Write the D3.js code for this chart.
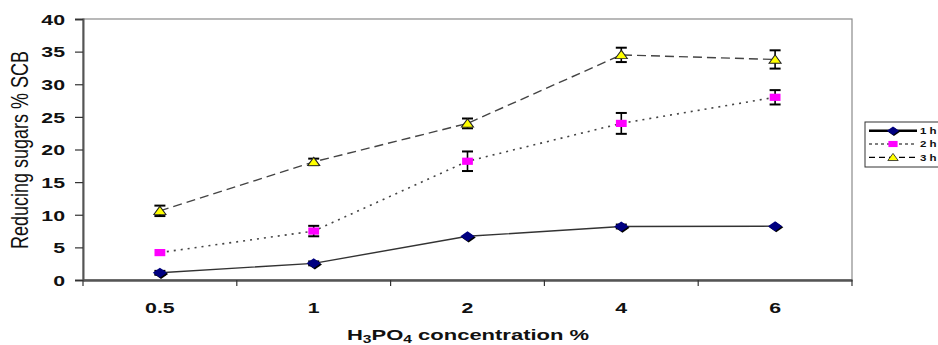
<!DOCTYPE html>
<html><head><meta charset="utf-8">
<script src="https://cdn.jsdelivr.net/npm/d3@7"></script>
<style>body{margin:0;background:#fff}svg{display:block}</style>
</head><body>
<svg id="c" width="938" height="345"></svg>
<script>
const categories = ["0.5", "1", "2", "4", "6"];
const seriesNames = ["1 h", "2 h", "3 h"];
const values1h = [1.1, 2.55, 6.7, 8.2, 8.25];
const values2h = [4.2, 7.5, 18.2, 24.0, 28.0];
const values3h = [10.6, 18.1, 24.0, 34.5, 33.8];
const err1h = [0.3, 0.3, 0.2, 0.3, 0.2];
const err2h = [0.0, 0.8, 1.5, 1.6, 1.1];
const err3h = [0.8, 0.5, 0.75, 1.1, 1.4];
const yTicks = [0, 5, 10, 15, 20, 25, 30, 35, 40];

const SX = 1.42; // horizontal stretch of text and markers in the reference
const FONT = "Liberation Sans, Arial, sans-serif";
const svg = d3.select("#c");
const L = 83, R = 852, T = 19, B = 280;
const x = d3.scaleBand().domain(categories).range([L, R]);
const y = d3.scaleLinear().domain([0, 40]).range([B, T]);

function stext(g, px, py, str, size, weight, anchor, sx) {
  return g.append("text").attr("transform", `translate(${px},${py}) scale(${sx || SX},1)`)
    .attr("text-anchor", anchor || "middle").attr("font-family", FONT)
    .attr("font-size", size).attr("font-weight", weight || "normal").attr("fill", "#111").text(str);
}

// frame
svg.append("rect").attr("x", L).attr("y", T).attr("width", R - L).attr("height", B - T)
  .attr("fill", "none").attr("stroke", "#8a8a8a").attr("stroke-width", 1.2);

// y axis
const ya = svg.append("g").attr("transform", `translate(${L},0)`)
  .call(d3.axisLeft(y).tickValues(yTicks).tickSize(8));
ya.select(".domain").attr("stroke", "#555").attr("stroke-width", 2);
ya.selectAll(".tick line").attr("stroke", "#333").attr("stroke-width", 1.2);
ya.selectAll(".tick text").attr("x", null).attr("dy", null)
  .attr("transform", `translate(-18,5.3) scale(${SX},1)`)
  .attr("font-family", FONT).attr("font-size", 15).attr("font-weight", "bold").attr("fill", "#111");

// x axis
const xa = svg.append("g").attr("transform", `translate(0,${B})`)
  .call(d3.axisBottom(x).tickSize(0));
xa.select(".domain").attr("stroke", "#555").attr("stroke-width", 2.5);
xa.selectAll(".tick text").attr("y", null).attr("dy", null)
  .attr("transform", `translate(0,32.5) scale(${SX},1)`)
  .attr("font-family", FONT).attr("font-size", 15).attr("font-weight", "bold").attr("fill", "#111");
const bounds = categories.map(c => x(c)).concat([R]);
svg.append("g").selectAll("line").data(bounds).join("line")
  .attr("x1", d => d).attr("x2", d => d).attr("y1", B).attr("y2", B + 6)
  .attr("stroke", "#333").attr("stroke-width", 1.2);

// labels
svg.append("text").attr("transform", `translate(28,150) scale(1.3,1) rotate(-90)`)
  .attr("text-anchor", "middle").attr("font-family", FONT)
  .attr("font-size", 18).attr("fill", "#111").text("Reducing sugars % SCB");
const xl = stext(svg, 468, 340, null, 15.5, "bold");
xl.append("tspan").text("H");
xl.append("tspan").attr("font-size", 11).attr("dy", 2.5).text("3");
xl.append("tspan").attr("dy", -2.5).text("PO");
xl.append("tspan").attr("font-size", 11).attr("dy", 2.5).text("4");
xl.append("tspan").attr("dy", -2.5).text(" concentration %");

const cx = c => x(c) + x.bandwidth() / 2;
const series = [
  {name: seriesNames[0], vals: values1h, err: err1h, dash: null, sw: 1.4, color: "#333"},
  {name: seriesNames[1], vals: values2h, err: err2h, dash: "2,5", sw: 1.6, color: "#444"},
  {name: seriesNames[2], vals: values3h, err: err3h, dash: "9,5", sw: 1.4, color: "#444"}
];
const line = d3.line().x(d => cx(d.c)).y(d => y(d.v));

function marker(g, i, px, py, k) {
  k = k || 1;
  const m = g.append("g").attr("transform", `translate(${px},${py}) scale(${SX * k},${k})`);
  if (i === 0) {
    m.append("path").attr("d", "M0,-5 L5,0 L0,5 L-5,0 Z")
      .attr("transform", "translate(0.8,1.2)").attr("fill", "#000");
    m.append("path").attr("d", "M0,-5 L5,0 L0,5 L-5,0 Z").attr("fill", "#000080");
  } else if (i === 1) {
    m.append("rect").attr("x", -3.8).attr("y", -3.6).attr("width", 7.6).attr("height", 7.2)
      .attr("fill", "#ff00ff");
  } else {
    m.append("path").attr("d", "M0,-4.6 L4.3,3.8 L-4.3,3.8 Z").attr("fill", "#ffff00")
      .attr("stroke", "#222").attr("stroke-width", 0.8);
  }
}

series.forEach((s, i) => {
  const data = categories.map((c, k) => ({c, v: s.vals[k], e: s.err[k]}));
  svg.append("path").datum(data).attr("d", line).attr("fill", "none")
    .attr("stroke", s.color).attr("stroke-width", s.sw)
    .attr("stroke-dasharray", s.dash);
  const eg = svg.append("g");
  data.filter(d => d.e > 0.25).forEach(d => {
    const px = cx(d.c);
    eg.append("line").attr("x1", px).attr("x2", px).attr("y1", y(d.v - d.e)).attr("y2", y(d.v + d.e))
      .attr("stroke", "#000").attr("stroke-width", 1.6);
    [d.v - d.e, d.v + d.e].forEach(v => eg.append("line").attr("x1", px - 5.5).attr("x2", px + 5.5)
      .attr("y1", y(v)).attr("y2", y(v)).attr("stroke", "#000").attr("stroke-width", 2));
  });
  const mg = svg.append("g");
  data.forEach(d => marker(mg, i, cx(d.c), y(d.v)));
});

// legend
const lg = svg.append("g");
lg.append("rect").attr("x", 865).attr("y", 122).attr("width", 80).attr("height", 45)
  .attr("fill", "#fff").attr("stroke", "#333").attr("stroke-width", 1);
series.forEach((s, i) => {
  const ly = 130.7 + i * 13.3;
  lg.append("line").attr("x1", 869).attr("x2", 917).attr("y1", ly).attr("y2", ly)
    .attr("stroke", "#000").attr("stroke-width", i === 0 ? 2.5 : 1.2)
    .attr("stroke-dasharray", i === 0 ? null : (i === 1 ? "3,3" : "6,4"));
  marker(lg, i, 893, ly, 0.85);
  stext(lg, 920, ly + 3.3, s.name, 9, "bold", "start", 1.28);
});
</script>
</body></html>
